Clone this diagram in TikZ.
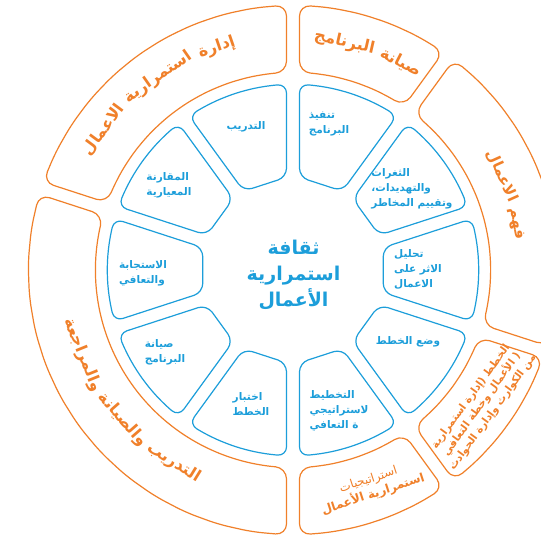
\documentclass[tikz,border=0pt]{standalone}
\usepackage{fontspec}
\TeXXeTstate=1
\newfontfamily\arabicfont[Script=Arabic]{DejaVu Sans}
\newcommand\ar[1]{{\arabicfont\beginR #1\endR}}
\definecolor{orng}{RGB}{240,128,42}
\definecolor{blu}{RGB}{28,158,218}
\newcommand\ofont{\arabicfont\bfseries\fontsize{16}{18}\selectfont}
\newcommand\ofontb{\arabicfont\bfseries\fontsize{15}{18}\selectfont}
\newsavebox\arwbox
% store a word and its measured width
\newcommand\mw[3]{%
  \expandafter\gdef\csname arwt#1\endcsname{#3}%
  \sbox\arwbox{#2\ar{#3}}%
  \expandafter\xdef\csname arwd#1\endcsname{\the\wd\arwbox}%
}
\AtBeginDocument{%
  \mw{oa1}{\ofont}{إدارة}\mw{oa2}{\ofont}{استمرارية}\mw{oa3}{\ofont}{الاعمال}%
  \mw{ob1}{\ofont}{صيانة}\mw{ob2}{\ofont}{البرنامج}%
  \mw{oc1}{\ofontb}{فهم}\mw{oc2}{\ofontb}{الاعمال}%
  \mw{od1}{\ofont}{التدريب}\mw{od2}{\ofont}{والصيانة}\mw{od3}{\ofont}{والمراجعة}%
}
\newcommand\wseg[5]{%
  \pgfmathsetmacro\dIn{asin(6.5/#3)}%
  \pgfmathsetmacro\dOut{asin(6.5/#4)}%
  \pgfmathsetmacro\aA{#1+\dOut}%
  \pgfmathsetmacro\aB{#2-\dOut}%
  \pgfmathsetmacro\bA{#1+\dIn}%
  \pgfmathsetmacro\bB{#2-\dIn}%
  \pgfmathtruncatemacro\ns{(#2-#1)/8+2}%
  \pgfmathtruncatemacro\ni{#3<120 ? 2 : \ns}%
  \draw[#5] plot[domain=\aA:\aB,samples=\ns] (\x:#4) -- plot[domain=\bB:\bA,samples=\ni] (\x:#3) -- cycle;%
}
% #1 font, #2 centre angle, #3 baseline radius, #4 dir (1 = top style, -1 = bottom style), #5 prefix, #6 number of words
\newcommand\arcwords[6]{%
  \xdef\arTot{0}%
  \foreach \i in {1,...,#6}{%
    \edef\arW{\csname arwd#5\i\endcsname}%
    \pgfmathsetmacro\arT{\arTot+\arW}\xdef\arTot{\arT}%
  }%
  \pgfmathsetmacro\arT{-(\arTot+(#6-1)*6)/2}\xdef\arPos{\arT}%
  \foreach \i in {1,...,#6}{%
    \edef\arW{\csname arwd#5\i\endcsname}%
    \pgfmathsetmacro\arM{\arPos+\arW/2}%
    \pgfmathsetmacro\arAng{#2+#4*\arM/#3*180/pi}%
    \pgfmathsetmacro\arRot{\arAng-90*#4}%
    \pgfmathsetmacro\arT{\arPos+\arW+6}\xdef\arPos{\arT}%
    \node[text=orng,inner sep=0pt,anchor=base,font=#1,rotate=\arRot] (#5\i) at (\arAng:#3) {\ar{\csname arwt#5\i\endcsname}};%
  }%
}
\begin{document}
\begin{tikzpicture}[x=1pt,y=1pt,
  bseg/.style={draw=blu,line width=1.2pt,rounded corners=9pt},
  oseg/.style={draw=orng,line width=1.2pt,rounded corners=11pt},
  blab/.style={text=blu,font=\arabicfont\bfseries\fontsize{10.5}{15}\selectfont,align=left,inner sep=0pt},
  osmall/.style={text=orng,font=\arabicfont\bfseries\fontsize{10.5}{13.5}\selectfont,align=center,inner sep=0pt},
  ctext/.style={text=blu,font=\arabicfont\bfseries\fontsize{19}{26}\selectfont,align=center,inner sep=0pt}]
\clip (-293,-268) rectangle (248,270);
\fill[white] (-293,-268) rectangle (248,270);
% inner blue ring
\foreach \a in {18,54,...,342}{
  \pgfmathsetmacro\b{\a+36}
  \wseg{\a}{\b}{93}{186}{bseg}
}
% outer orange ring
\wseg{54}{90}{198}{265}{oseg}
\wseg{-18}{54}{198}{265}{oseg}
\wseg{-54}{-18}{198}{265}{oseg}
\wseg{-90}{-54}{198}{265}{oseg}
\wseg{162}{270}{198}{265}{oseg}
\wseg{90}{162}{198}{265}{oseg}
% centre
\node[ctext] (centre) at (0.5,-5.5) {\ar{ثقافة}\\\ar{استمرارية}\\\ar{الأعمال}};
% blue labels
\node[blab] (l1) at (36,146) {\ar{تنفيذ}\\\ar{البرنامج}};
\node[blab] (l2) at (119,81) {\ar{الثغرات}\\\ar{والتهديدات،}\\\ar{وتقييم المخاطر}};
\node[blab] (l3) at (125,1) {\ar{تحليل}\\\ar{الاثر على}\\\ar{الاعمال}};
\node[blab] (l4) at (115,-72) {\ar{وضع الخطط}};
\node[blab] (l5) at (46,-141) {\ar{التخطيط}\\\ar{لاستراتيجي}\\\ar{ة التعافي}};
\node[blab] (l6) at (-42,-134) {\ar{اختبار}\\\ar{الخطط}};
\node[blab] (l7) at (-128,-82) {\ar{صيانة}\\\ar{البرنامج}};
\node[blab] (l8) at (-150,-3) {\ar{الاستجابة}\\\ar{والتعافي}};
\node[blab] (l9) at (-124,85) {\ar{المقارنة}\\\ar{المعيارية}};
\node[blab] (l10) at (-47,143) {\ar{التدريب}};
% orange labels
\arcwords{\ofont}{127.5}{231}{1}{oa}{3}
\arcwords{\ofont}{71}{229}{1}{ob}{2}
\arcwords{\ofontb}{19.5}{225}{1}{oc}{2}
\arcwords{\ofont}{219}{231}{-1}{od}{3}
\node[osmall,rotate=54] (o4) at (-35.5:232) {\ar{الخطط (إدارة استمرارية}\\\ar{( الأعمال وخطة التعافي}\\\ar{من الكوارث وإدارة الحوادث}};
\node[text=orng,align=center,inner sep=0pt,rotate=18] (o5) at (-70.3:231)
  {{\arabicfont\fontsize{12}{16}\selectfont\beginR استراتيجيات\endR}\\{\arabicfont\bfseries\fontsize{12}{16}\selectfont\beginR استمرارية الأعمال\endR}};
\end{tikzpicture}
\end{document}
